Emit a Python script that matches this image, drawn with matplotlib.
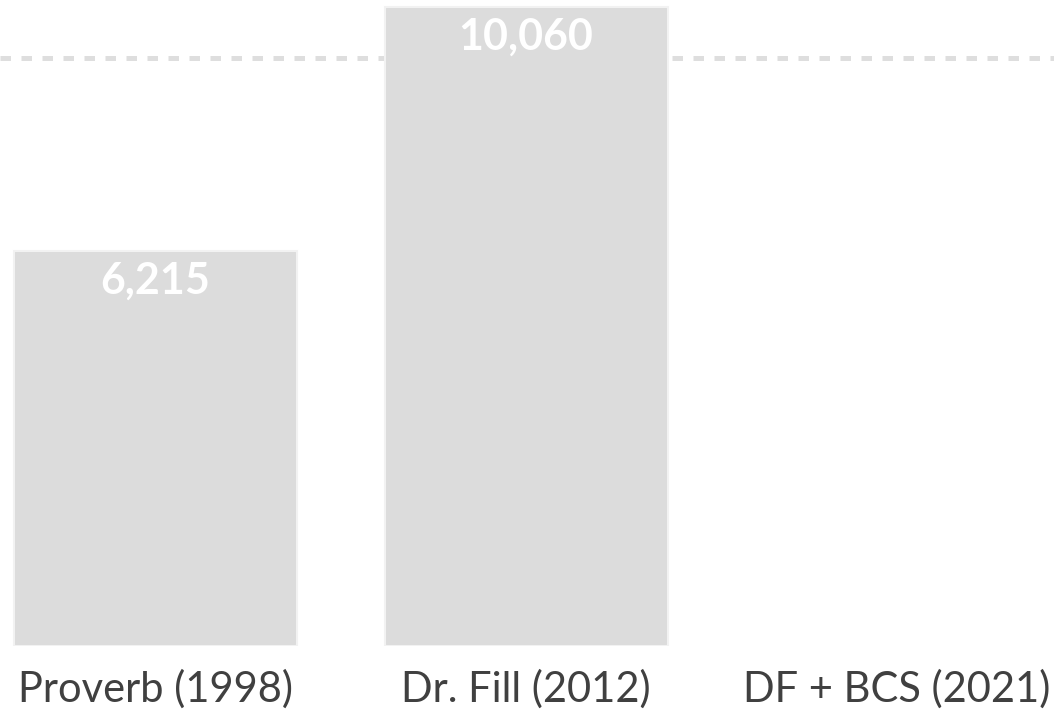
import matplotlib.pyplot as plt

# data
categories = ["Proverb (1998)", "Dr. Fill (2012)", "DF + BCS (2021)"]
scores = [6215, 10060, 0]
reference_line = 9260
value_labels = ["6,215", "10,060", ""]

bar_color = "#dcdcdc"
text_color = "#404040"

plt.rcParams['font.family'] = ['Lato', 'DejaVu Sans']

fig = plt.figure(figsize=(10.54, 7.23), dpi=100)
ax = fig.add_axes([0, 0.1065, 1, 0.8935])

x = range(len(categories))
# dashed reference line sits behind the bars
ax.axhline(reference_line, color="#dedede", linewidth=3.6, linestyle=(0, (2.1, 2.1)), zorder=1)
bars = ax.bar(x, scores, width=0.763, color=bar_color, edgecolor="#f2f2f2", linewidth=1.5, zorder=2)
for rect, val in zip(bars, scores):
    if val == 0:
        rect.set_linewidth(0)

for rect, lab in zip(bars, value_labels):
    if not lab:
        continue
    ax.annotate(lab, (rect.get_x() + rect.get_width() / 2, rect.get_height()),
                xytext=(0, -7), textcoords="offset points", ha="center", va="top",
                color="white", fontsize=31, fontweight="bold", zorder=3)

ax.set_xlim(-0.418, 2.423)
ax.set_ylim(0, 10170)
ax.set_xticks(list(x))
ax.set_xticklabels(categories, fontsize=30, color=text_color)
ax.tick_params(axis="x", length=0, pad=17)
ax.set_yticks([])
for s in ax.spines.values():
    s.set_visible(False)

fig.savefig("out.png", dpi=100)
